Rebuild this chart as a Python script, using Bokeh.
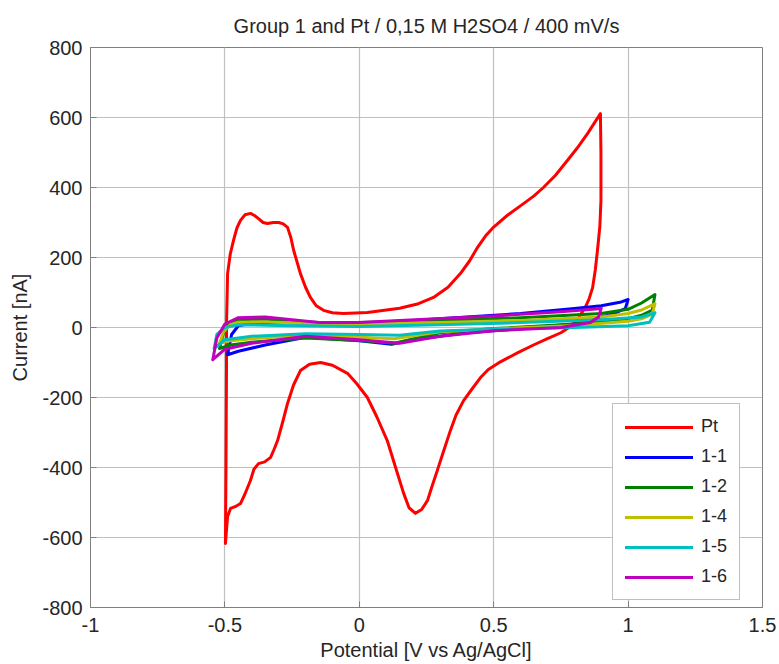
from bokeh.plotting import figure
from bokeh.models import FixedTicker, Legend, LegendItem, Range1d
from bokeh.embed import file_html
from bokeh.resources import INLINE

TITLE = "Group 1 and Pt / 0,15 M H2SO4 / 400 mV/s"
X_TICKS = [-1, -0.5, 0, 0.5, 1, 1.5]
X_TICK_LABELS = ["-1", "-0.5", "0", "0.5", "1", "1.5"]
Y_TICKS = [-800, -600, -400, -200, 0, 200, 400, 600, 800]
Y_TICK_LABELS = ["-800", "-600", "-400", "-200", "0", "200", "400", "600", "800"]

# Pt (anodic sweep, then cathodic sweep)
pt_v = [-0.498, -0.496, -0.494, -0.494, -0.490, -0.480, -0.468, -0.455, -0.442, -0.425, -0.405,
        -0.390, -0.375, -0.358, -0.342, -0.320, -0.300, -0.283, -0.267, -0.255, -0.244, -0.219,
        -0.200, -0.182, -0.160, -0.133, -0.100, -0.059, 0.030, 0.150, 0.220, 0.276, 0.330,
        0.376, 0.410, 0.440, 0.470, 0.500, 0.550, 0.611, 0.650, 0.685, 0.730, 0.774, 0.810,
        0.849, 0.897,
        0.899, 0.899, 0.895, 0.886, 0.878, 0.868, 0.855, 0.840, 0.810, 0.780, 0.750, 0.700,
        0.648, 0.590, 0.525, 0.480, 0.451, 0.420, 0.388, 0.360, 0.339, 0.315, 0.290, 0.270,
        0.254, 0.232, 0.209, 0.185, 0.165, 0.135, 0.104, 0.065, 0.030, -0.010, -0.044, -0.100,
        -0.144, -0.185, -0.219, -0.245, -0.267, -0.285, -0.304, -0.318, -0.330, -0.352, -0.375,
        -0.392, -0.405, -0.425, -0.442, -0.462, -0.479, -0.490, -0.498]
pt_i = [-617, -400, -100, 11, 154, 210, 249, 285, 306, 322, 326,
        320, 311, 300, 297, 300, 300, 296, 286, 258, 220, 154,
        115, 86, 62, 49, 42, 40, 43, 55, 68, 86, 115,
        154, 190, 229, 262, 287, 320, 354, 376, 400, 435, 477, 512,
        554, 611,
        500, 363, 290, 220, 165, 114, 82, 57, 20, 0, -15, -32,
        -50, -72, -98, -120, -143, -175, -209, -250, -294, -350, -409, -455,
        -494, -520, -531, -515, -474, -400, -323, -255, -200, -160, -131, -108,
        -100, -105, -123, -165, -217, -270, -323, -350, -371, -384, -389,
        -405, -437, -475, -503, -512, -517, -540, -617]

# Group 1 samples (anodic sweep left->right, cathodic sweep right->left)
s11_v = [-0.490, -0.475, -0.450, -0.400, -0.300, -0.200, 0.000, 0.200, 0.400, 0.600, 0.800, 0.900,
         0.970, 1.000, 0.990, 0.950, 0.800, 0.600, 0.400, 0.200, 0.120, 0.000, -0.200, -0.350,
         -0.450, -0.490]
s11_i = [-78, -20, 5, 12, 15, 12, 12, 20, 30, 40, 54, 62,
         72, 80, 55, 40, 10, -3, -15, -35, -48, -38, -28, -50,
         -68, -78]

s12_v = [-0.520, -0.505, -0.480, -0.450, -0.350, -0.250, -0.150, 0.000, 0.300, 0.600, 0.900, 1.000,
         1.050, 1.100, 1.090, 1.050, 1.000, 0.800, 0.500, 0.300, 0.130, 0.000, -0.200, -0.400,
         -0.480, -0.520]
s12_i = [-60, -15, 12, 22, 24, 18, 14, 14, 20, 28, 40, 52,
         70, 94, 50, 35, 25, 10, -3, -15, -45, -37, -30, -42,
         -50, -60]

s14_v = [-0.520, -0.505, -0.480, -0.450, -0.350, -0.200, 0.000, 0.300, 0.600, 0.900, 1.000, 1.050,
         1.100, 1.090, 1.050, 1.000, 0.800, 0.500, 0.300, 0.130, 0.000, -0.200, -0.400, -0.480,
         -0.520]
s14_i = [-45, -12, 8, 15, 16, 12, 10, 14, 20, 30, 40, 50,
         68, 38, 25, 18, 6, -4, -12, -32, -28, -22, -32, -38,
         -45]

s15_v = [-0.540, -0.530, -0.500, -0.450, -0.300, 0.000, 0.300, 0.600, 0.900, 1.050, 1.100, 1.080,
         1.000, 0.800, 0.500, 0.300, 0.150, 0.000, -0.200, -0.400, -0.500, -0.540]
s15_i = [-60, -20, 0, 8, 6, 3, 8, 14, 22, 30, 42, 15,
         5, 0, -5, -10, -22, -20, -18, -25, -35, -60]

s16_v = [-0.545, -0.530, -0.500, -0.450, -0.350, -0.250, -0.150, 0.000, 0.150, 0.500, 0.750, 0.880,
         0.900, 0.890, 0.860, 0.750, 0.500, 0.300, 0.150, 0.000, -0.200, -0.400, -0.500, -0.545]
s16_i = [-92, -30, 10, 28, 30, 22, 14, 14, 20, 33, 45, 53,
         55, 30, 14, 0, -9, -25, -45, -35, -25, -45, -62, -92]

series = [
    ("Pt", pt_v, pt_i, "#ff0000"),
    ("1-1", s11_v, s11_i, "#0000ff"),
    ("1-2", s12_v, s12_i, "#008000"),
    ("1-4", s14_v, s14_i, "#bfbf00"),
    ("1-5", s15_v, s15_i, "#00bfbf"),
    ("1-6", s16_v, s16_i, "#bf00bf"),
]

FONT = "Liberation Sans"
TXT = "#262626"
AX = "#808080"

p = figure(width=779, height=664, output_backend="svg", toolbar_location=None,
           x_range=Range1d(-1, 1.5), y_range=Range1d(-800, 800),
           min_border_left=90, min_border_right=17, min_border_top=47, min_border_bottom=57)
p.title.text = TITLE
p.title.align = "center"
p.title.text_font = FONT
p.title.text_font_size = "20px"
p.title.text_font_style = "normal"
p.title.text_color = TXT
p.title.standoff = 22

p.outline_line_color = AX
p.background_fill_color = "white"
p.border_fill_color = "white"

for ax in (p.xaxis[0], p.yaxis[0]):
    ax.major_label_text_font = FONT
    ax.major_label_text_font_size = "20px"
    ax.major_label_text_color = TXT
    ax.axis_label_text_font = FONT
    ax.axis_label_text_font_size = "20px"
    ax.axis_label_text_font_style = "normal"
    ax.axis_label_text_color = TXT
    ax.axis_line_color = AX
    ax.major_tick_line_color = AX
    ax.major_tick_in = 6
    ax.major_tick_out = 0
    ax.minor_tick_line_color = None

p.xaxis.ticker = FixedTicker(ticks=X_TICKS)
p.yaxis.ticker = FixedTicker(ticks=Y_TICKS)
p.xaxis.major_label_overrides = {t: l for t, l in zip(X_TICKS, X_TICK_LABELS)}
p.yaxis.major_label_overrides = {t: l for t, l in zip(Y_TICKS, Y_TICK_LABELS)}
p.xaxis.axis_label = "Potential [V vs Ag/AgCl]"
p.yaxis.axis_label = "Current [nA]"
p.xaxis.major_label_standoff = 10
p.yaxis.major_label_standoff = 8
p.xaxis.axis_label_standoff = 4
p.yaxis.axis_label_standoff = 8

p.xgrid.ticker = FixedTicker(ticks=X_TICKS)
p.ygrid.ticker = FixedTicker(ticks=Y_TICKS)
p.grid.grid_line_color = "#c0c0c0"
p.grid.grid_line_width = 1.2

items = []
for name, v, i, c in series:
    r = p.line(v, i, line_color=c, line_width=3, line_join="round", line_cap="round")
    items.append(LegendItem(label=name, renderers=[r]))

legend = Legend(items=items, location=(522, 7))
legend.label_text_font = FONT
legend.label_text_font_size = "18px"
legend.label_text_color = TXT
legend.glyph_width = 68
legend.glyph_height = 20
legend.label_height = 20
legend.spacing = 9
legend.padding = 12
legend.margin = 0
legend.label_standoff = 8
legend.border_line_color = AX
legend.border_line_width = 1
legend.background_fill_alpha = 1
p.add_layout(legend, "center")

open("out.html", "w").write(file_html(p, INLINE))
